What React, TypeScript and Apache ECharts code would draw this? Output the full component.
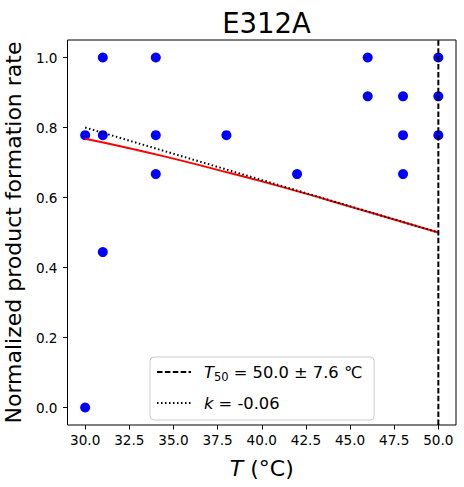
import React, { useEffect, useRef } from "react";
import * as echarts from "echarts";

// Measurements
const tempC = [30, 30, 31, 31, 31, 34, 34, 34, 38, 42, 46, 46, 48, 48, 48, 50, 50, 50];
const rate = [0.778, 0.0, 1.0, 0.778, 0.444, 1.0, 0.778, 0.667, 0.778, 0.667, 1.0, 0.889, 0.889, 0.778, 0.667, 1.0, 0.889, 0.778];

// Fitted curve
const fitT = [30, 32.5, 35, 37.5, 40, 42.5, 45, 47.5, 50];
const fitRate = [0.768, 0.741, 0.711, 0.679, 0.646, 0.611, 0.574, 0.537, 0.5];

// Tangent (slope k)
const tangentT = [30, 50];
const tangentRate = [0.8, 0.5];

// T50 vertical line
const t50 = 50;
const yRange = [-0.05, 1.05];
const xRange = [29, 51];

const xTicks = [30, 32.5, 35, 37.5, 40, 42.5, 45, 47.5, 50];
const yTicks = [0, 0.2, 0.4, 0.6, 0.8, 1.0];

const FONT = "DejaVu Sans";

export default function App() {
  const ref = useRef<HTMLDivElement>(null);
  useEffect(() => {
    if (!ref.current) return;
    const chart = echarts.init(ref.current, null, { renderer: "svg" });
    const tick = { fontFamily: FONT, fontSize: 13.6, color: "#000" };
    chart.setOption({
      animation: false,
      backgroundColor: "#fff",
      title: {
        text: "E312A",
        left: 261.5,
        top: 4,
        textAlign: "center",
        textStyle: { fontFamily: FONT, fontSize: 27.5, fontWeight: "normal", color: "#000" },
      },
      grid: {
        left: 67.5,
        right: 8,
        top: 40,
        bottom: 62,
        outerBoundsMode: "none",
        containLabel: false,
        show: true,
        borderColor: "#000",
        borderWidth: 1,
        backgroundColor: "transparent",
      },
      xAxis: {
        type: "value",
        min: xRange[0],
        max: xRange[1],
        position: "bottom",
        axisLine: { show: false, onZero: false },
        splitLine: { show: false },
        axisTick: { show: true, length: 4.5, inside: false, customValues: xTicks, lineStyle: { color: "#000" } },
        axisLabel: { ...tick, margin: 8, customValues: xTicks, formatter: (v: number) => v.toFixed(1) },
        name: "{it|T} (°C)",
        nameLocation: "middle",
        nameGap: 32,
        nameTextStyle: {
          fontFamily: FONT,
          fontSize: 22,
          color: "#000",
          rich: { it: { fontFamily: FONT, fontSize: 22, fontStyle: "italic", color: "#000" } },
        },
      },
      yAxis: {
        type: "value",
        min: yRange[0],
        max: yRange[1],
        position: "left",
        axisLine: { show: false, onZero: false },
        splitLine: { show: false },
        axisTick: { show: true, length: 4.5, inside: false, customValues: yTicks, lineStyle: { color: "#000" } },
        axisLabel: { ...tick, margin: 10, customValues: yTicks, formatter: (v: number) => v.toFixed(1) },
        name: "Normalized product formation rate",
        nameLocation: "middle",
        nameRotate: 90,
        nameGap: 38,
        nameTextStyle: { fontFamily: FONT, fontSize: 22, color: "#000" },
      },
      legend: {
        data: ["T50", "k"],
        orient: "vertical",
        left: 150,
        top: 357,
        itemWidth: 34,
        itemHeight: 15,
        itemGap: 12.5,
        padding: [7, 12, 9, 6],
        backgroundColor: "rgba(255,255,255,0.8)",
        borderColor: "#cccccc",
        borderWidth: 1,
        borderRadius: 4,
        itemStyle: { opacity: 0 },
        formatter: (name: string) =>
          name === "T50" ? "{it|T}{sub|50}{n| = 50.0 ± 7.6 ℃}" : "{it|k}{n| = -0.06}",
        textStyle: {
          fontFamily: FONT,
          fontSize: 16.3,
          color: "#000",
          padding: [0, 0, 0, 8],
          rich: {
            it: { fontFamily: FONT, fontSize: 16.3, fontStyle: "italic", color: "#000" },
            sub: { fontFamily: FONT, fontSize: 11.5, color: "#000", padding: [9, 0, 0, 0] },
            n: { fontFamily: FONT, fontSize: 16.3, color: "#000" },
          },
        },
      },
      series: [
        {
          name: "data",
          type: "scatter",
          data: tempC.map((t, i) => [t, rate[i]]),
          symbol: "circle",
          symbolSize: 10,
          itemStyle: { color: "#0000ff", opacity: 1 },
          z: 2,
        },
        {
          name: "fit",
          type: "line",
          data: fitT.map((t, i) => [t, fitRate[i]]),
          symbol: "none",
          smooth: true,
          lineStyle: { color: "#ff0000", width: 2 },
          z: 3,
        },
        {
          name: "T50",
          type: "line",
          data: [
            [t50, yRange[0]],
            [t50, yRange[1]],
          ],
          symbol: "none",
          lineStyle: { color: "#000", width: 2, type: [5.5, 2.4] },
          z: 4,
        },
        {
          name: "k",
          type: "line",
          data: tangentT.map((t, i) => [t, tangentRate[i]]),
          symbol: "none",
          lineStyle: { color: "#000", width: 2, type: [1.5, 2.5] },
          z: 5,
        },
      ],
    });
    return () => chart.dispose();
  }, []);
  return <div ref={ref} style={{ width: 464, height: 487, position: "absolute", left: 0, top: 0 }} />;
}
